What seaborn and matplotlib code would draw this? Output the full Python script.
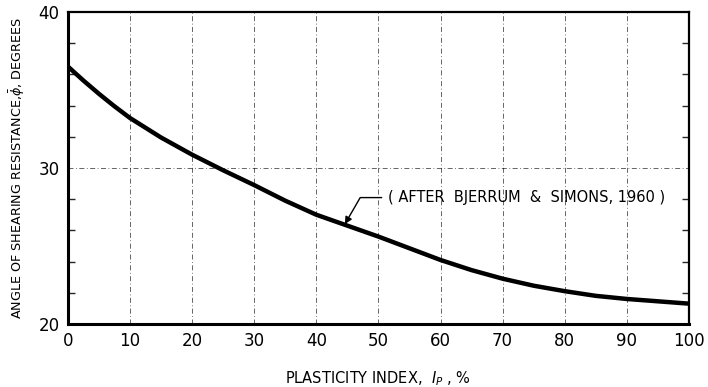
import numpy as np
import pandas as pd
import matplotlib
matplotlib.use("Agg")
import matplotlib.pyplot as plt
import seaborn as sns

# =====================================================================
# DATA - read off the Bjerrum & Simons (1960) curve
# =====================================================================
plasticity_index = [0, 2.5, 5, 7.5, 10, 15, 20, 25, 30, 35, 40, 45, 50,
                    55, 60, 65, 70, 75, 80, 85, 90, 95, 100]
phi_deg = [36.5, 35.6, 34.75, 33.95, 33.2, 31.95, 30.85, 29.85, 28.9, 27.9, 27.0, 26.3, 25.6,
           24.85, 24.1, 23.45, 22.9, 22.45, 22.1, 21.8, 21.6, 21.45, 21.3]
x_ticks = [0, 10, 20, 30, 40, 50, 60, 70, 80, 90, 100]
y_ticks = [20, 30, 40]

df = pd.DataFrame({"ip": plasticity_index, "phi": phi_deg})

# =====================================================================
# PLOT
# =====================================================================
sns.set_style("white")
plt.rcParams["font.family"] = ["DejaVu Sans"]
plt.rcParams["text.color"] = "black"

fig = plt.figure(figsize=(7.08, 3.87), dpi=100)
ax = fig.add_axes([0.096, 0.163, 0.877, 0.806])

sns.lineplot(data=df, x="ip", y="phi", ax=ax, color="black", linewidth=3.2)

ax.set_xlim(0, 100)
ax.set_ylim(20, 40)
ax.set_xticks(x_ticks)
ax.set_yticks(y_ticks)
ax.set_yticks(np.arange(22, 40, 2), minor=True)

# dash-dot grid like the drafted original
for xv in x_ticks[1:-1]:
    ax.axvline(xv, color="black", lw=0.6, ls=(0, (6, 3, 1, 3)), alpha=0.7, zorder=0)
ax.axhline(30, color="black", lw=0.6, ls=(0, (6, 3, 1, 3)), alpha=0.7, zorder=0)

for side in ["left", "bottom", "right", "top"]:
    ax.spines[side].set_visible(True)
    ax.spines[side].set_color("black")
ax.spines["left"].set_linewidth(2.2)
ax.spines["bottom"].set_linewidth(2.2)
ax.spines["right"].set_linewidth(1.6)
ax.spines["top"].set_linewidth(1.6)

ax.tick_params(axis="both", which="major", length=0, labelsize=12, pad=6,
               labelcolor="black")
ax.tick_params(axis="y", which="minor", direction="in", length=5, width=1,
               left=True, right=True)

ax.set_xlabel("PLASTICITY INDEX,  $I_P$ , %", fontsize=10.5, labelpad=14,
              color="black")
ax.set_ylabel(r"ANGLE OF SHEARING RESISTANCE,$\bar{\phi}$, DEGREES",
              fontsize=9.2, labelpad=8, color="black")

ax.annotate("( AFTER  BJERRUM  &  SIMONS, 1960 )",
            xy=(44.6, 26.4), xytext=(51.5, 28.1),
            fontsize=10.5, va="center", ha="left", color="black",
            arrowprops=dict(arrowstyle="-|>", color="black", lw=1,
                            connectionstyle="angle,angleA=0,angleB=60,rad=0",
                            shrinkA=2, shrinkB=0))

fig.savefig("out.png", dpi=100)
